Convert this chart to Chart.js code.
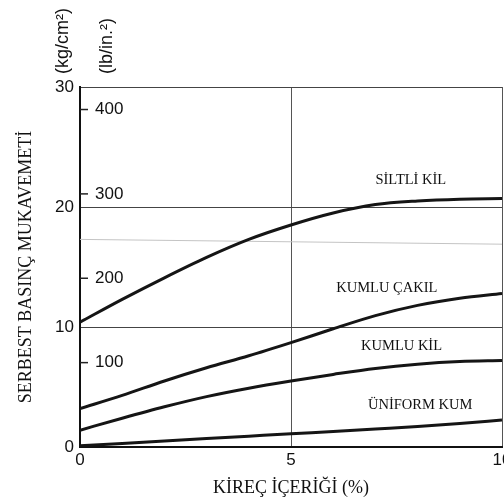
<!DOCTYPE html>
<html>
<head>
<meta charset="utf-8">
<script src="https://cdn.jsdelivr.net/npm/chart.js@4.4.0/dist/chart.umd.min.js"></script>
<style>
html, body { margin: 0; padding: 0; background: #fff; }
#kutu { width: 504px; height: 501px; }
</style>
</head>
<body>
<div id="kutu"><canvas id="grafik"></canvas></div>
<script>
// Kireç içeriği (%) ve serbest basınç mukavemeti (kg/cm2)
const kirecIcerigi = [0, 1, 2, 3, 4, 5, 6, 7, 8, 9, 10];
const siltliKil  = [10.4, 12.3, 14.1, 15.8, 17.3, 18.5, 19.5, 20.2, 20.5, 20.65, 20.7];
const kumluCakil = [3.2, 4.3, 5.5, 6.6, 7.6, 8.7, 9.85, 10.95, 11.8, 12.4, 12.8];
const kumluKil   = [1.4, 2.4, 3.35, 4.2, 4.9, 5.5, 6.05, 6.55, 6.9, 7.12, 7.2];
const uniformKum = [0.1, 0.3, 0.5, 0.7, 0.9, 1.1, 1.3, 1.5, 1.7, 1.95, 2.25];
const solukCizgiX = [0, 10];
const solukCizgi = [17.3, 16.9];
const psiDegerleri = [100, 200, 300, 400];
const egriAdlari = ["SİLTLİ KİL", "KUMLU ÇAKIL", "KUMLU KİL", "ÜNİFORM KUM"];

const KG_PSI = 14.223;
const sansFont = '"Liberation Sans Narrow", "Liberation Sans", sans-serif';
const serifFont = '"Liberation Serif", "Times New Roman", serif';

// etiketlerin yerleri (veri birimi)
const etiketYerleri = [[7.84, 22.2], [7.27, 13.25], [7.62, 8.4], [8.06, 3.5]];

function noktalar(seri, xler) {
    return seri.map((v, i) => ({ x: (xler || kirecIcerigi)[i], y: v }));
}

function egri(seri) {
    return {
        data: noktalar(seri),
        borderColor: "#151515",
        borderWidth: 3,
        pointRadius: 0,
        cubicInterpolationMode: "monotone",
        fill: false
    };
}

const ekYazilar = {
    id: "ekYazilar",
    afterDraw(chart) {
        const { ctx, scales: { x, y } } = chart;
        ctx.save();
        // lb/in2 eksen çentikleri (iç tarafta)
        ctx.strokeStyle = "#222";
        ctx.lineWidth = 1.5;
        ctx.fillStyle = "#111";
        ctx.font = "17px " + sansFont;
        ctx.textAlign = "left";
        ctx.textBaseline = "middle";
        const x0 = x.getPixelForValue(0);
        psiDegerleri.forEach(p => {
            const py = y.getPixelForValue(p / KG_PSI);
            ctx.beginPath();
            ctx.moveTo(x0, py);
            ctx.lineTo(x0 + 8, py);
            ctx.stroke();
            ctx.fillText(String(p), x0 + 15, py);
        });

        // birim yazıları (dikey)
        ctx.font = "18px " + sansFont;
        [["(kg/cm²)", 63], ["(lb/in.²)", 107]].forEach(([t, px]) => {
            ctx.save();
            ctx.translate(px, 74);
            ctx.rotate(-Math.PI / 2);
            ctx.textAlign = "left";
            ctx.fillText(t, 0, 0);
            ctx.restore();
        });

        // eğri adları
        ctx.font = "14.5px " + serifFont;
        ctx.textAlign = "center";
        etiketYerleri.forEach((e, i) => {
            ctx.fillText(egriAdlari[i], x.getPixelForValue(e[0]), y.getPixelForValue(e[1]));
        });
        ctx.restore();
    }
};

const ctx = document.getElementById("grafik").getContext("2d");
new Chart(ctx, {
    type: "line",
    data: {
        datasets: [
            egri(siltliKil),
            egri(kumluCakil),
            egri(kumluKil),
            egri(uniformKum),
            {
                data: noktalar(solukCizgi, solukCizgiX),
                borderColor: "#c4c4c4",
                borderWidth: 1,
                pointRadius: 0,
                fill: false
            }
        ]
    },
    options: {
        responsive: true,
        maintainAspectRatio: false,
        animation: false,
        layout: { padding: { top: 87, right: 2, left: 0, bottom: 0 } },
        plugins: { legend: { display: false }, tooltip: { enabled: false } },
        scales: {
            x: {
                type: "linear",
                min: 0,
                max: 10,
                ticks: { stepSize: 5, color: "#111", font: { family: sansFont, size: 17 }, padding: 3 },
                grid: { color: "#555", lineWidth: 1, drawTicks: false },
                border: { color: "#111", width: 2 },
                title: {
                    display: true,
                    text: "KİREÇ İÇERİĞİ (%)",
                    color: "#111",
                    font: { family: serifFont, size: 18 },
                    padding: { top: 0, bottom: 2 }
                },
                afterFit: s => { s.height = 54; s.paddingLeft = 0; s.paddingRight = 0; }
            },
            y: {
                min: 0,
                max: 30,
                ticks: { stepSize: 10, color: "#111", font: { family: sansFont, size: 17 }, padding: 6 },
                grid: { color: "#444", lineWidth: 1, drawTicks: false },
                border: { color: "#111", width: 2 },
                title: {
                    display: true,
                    text: "SERBEST BASINÇ MUKAVEMETİ",
                    color: "#111",
                    font: { family: serifFont, size: 18 },
                    padding: { top: 15, bottom: 0 }
                },
                afterFit: s => { s.width = 80; s.paddingTop = 0; s.paddingBottom = 0; }
            }
        }
    },
    plugins: [ekYazilar]
});
</script>
</body>
</html>
